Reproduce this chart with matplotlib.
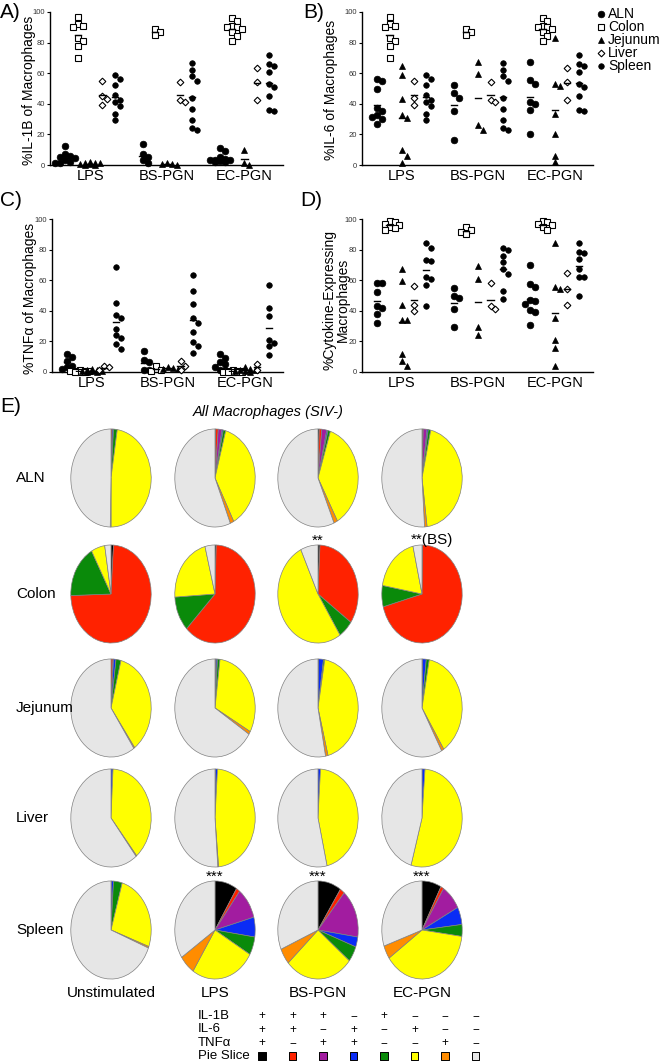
import matplotlib
matplotlib.use('Agg')
import matplotlib.pyplot as plt
import numpy as np

plt.rcParams['font.family'] = ['Liberation Sans', 'DejaVu Sans']

# ---------------- data ----------------
stimuli = ['LPS', 'BS-PGN', 'EC-PGN']
tissues = ['ALN', 'Colon', 'Jejunum', 'Liver', 'Spleen']

il1b_lps = [[12.5, 7, 6, 5, 4.5, 3, 2, 1.5, 1],
            [97, 92, 91, 90, 83, 81, 78, 70],
            [2, 1.5, 1, 1, 0.5, 0.5, 0.3, 0.2],
            [55, 45, 43, 39],
            [58.5, 56.5, 52, 45.5, 42.5, 41, 38.5, 33.5, 29.5]]
il1b_bs = [[13.5, 7, 5, 3, 1],
           [89, 87, 85],
           [1, 0.8, 0.5, 0.3],
           [54.5, 42.5, 41],
           [66.5, 62, 58, 55, 44, 36.5, 29.5, 24, 23]]
il1b_ec = [[11, 9, 5, 4, 3.5, 3, 2.5, 2, 2, 3],
           [96, 94, 91, 90, 90, 89, 87, 84, 81],
           [10, 1, 0.3],
           [63.5, 54, 42.5],
           [72, 66, 65, 60.5, 53, 51, 45, 36, 35.5]]

il6_lps = [[56.5, 55, 50, 37, 35, 33, 31.5, 30, 26.5],
           [97, 92, 91, 90, 83, 81, 78, 70],
           [65, 59, 43, 33, 30.5, 9.5, 6, 1.5],
           [55, 44, 39],
           [58.5, 56.5, 52, 45.5, 42.5, 41, 38.5, 33.5, 29.5]]
il6_bs = [[52, 47, 43.5, 35.5, 16.5],
          [89, 87, 85],
          [67, 59.5, 26, 23],
          [54.5, 42.5, 41],
          [66.5, 62, 58, 55, 44, 36.5, 29.5, 24, 23]]
il6_ec = [[67, 55.5, 53, 41, 40, 36, 20.5],
          [96, 94, 91, 90, 90, 89, 87, 84, 81],
          [83, 53, 51.5, 33.5, 20.5, 6, 2],
          [63.5, 54, 42.5],
          [72, 66, 65, 60.5, 53, 51, 45, 36, 35.5]]

tnf_lps = [[11.5, 10, 7, 4, 3, 2],
           [1, 0.8, 0.5, 0.5, 0.3, 0.2, 0.5, 0.1],
           [2, 1.5, 1, 0.8, 0.5, 0.5, 0.3, 0.2],
           [4, 3, 1],
           [68.5, 45, 37.5, 35, 28, 24, 22, 18, 15]]
tnf_bs = [[14, 8, 6.5, 1, 1],
          [4, 1, 0.5],
          [3, 2.5, 2, 2],
          [7, 4, 1],
          [63.5, 53, 44.5, 35, 32, 26, 19.5, 17, 12.5]]
tnf_ec = [[12, 9, 6.5, 5, 3, 1.5, 1],
          [1, 0.8, 0.5, 0.4, 0.3, 0.3, 0.2, 0.1, 0.1],
          [3, 2, 1.5, 1, 0.8, 0.5, 0.3],
          [5, 1],
          [57, 42, 36.5, 21, 19, 17, 11]]

cyto_lps = [[58, 58, 52, 43, 42, 38, 32],
            [99, 98, 97, 96, 95, 94, 93],
            [67.5, 59.5, 43.5, 34, 34, 12, 7, 4],
            [56.5, 44, 40],
            [84, 81, 73, 72.5, 62, 61, 57, 43]]
cyto_bs = [[55, 50, 48.5, 41.5, 29.5],
           [95, 93, 91.5, 90],
           [69.5, 60.5, 29.5, 24],
           [58, 43, 41],
           [81, 80, 76, 72, 67, 64, 53, 48]]
cyto_ec = [[70, 57.5, 55.5, 47, 46.5, 44.5, 40.5, 39.5, 31],
           [99, 98, 97, 96, 95, 93],
           [84, 55.5, 54, 35, 21, 16, 4],
           [65, 54, 43.5],
           [84, 78.5, 78, 74, 67, 62, 62, 49.5]]

panels = [('A)', '%IL-1B of Macrophages', [il1b_lps, il1b_bs, il1b_ec]),
          ('B)', '%IL-6 of Macrophages', [il6_lps, il6_bs, il6_ec]),
          ('C)', '%TNF\u03b1 of Macrophages', [tnf_lps, tnf_bs, tnf_ec]),
          ('D)', '%Cytokine-Expressing\nMacrophages', [cyto_lps, cyto_bs, cyto_ec])]
y_ticks = [0, 20, 40, 60, 80, 100]

# pie fractions: order = [1B+6+T+, 1B+6+, 1B+T+, 6+T+, 1B only, 6 only, T only, none]
pie_conditions = ['Unstimulated', 'LPS', 'BS-PGN', 'EC-PGN']
pie_aln = [[0, 0.5, 0, 0.5, 1.5, 47.5, 0.3, 49.7],
           [0.3, 1, 1.5, 0.5, 1, 38, 1.5, 56.2],
           [0.5, 1, 2, 0.5, 1, 37, 1.5, 56.5],
           [0.3, 0.2, 1.5, 0.5, 1, 44.5, 1, 51]]
pie_colon = [[1, 73.5, 0, 0, 17.5, 5.5, 0, 2.5],
             [0.5, 62, 0, 0, 11.5, 22, 0, 4],
             [0.8, 34, 0, 0, 6, 52.2, 0, 7],
             [0.2, 70.6, 0, 0, 7, 18.6, 0, 3.6]]
pie_jejunum = [[0, 0.8, 0.2, 1, 2, 36, 0.4, 59.6],
               [0.3, 0, 0.2, 0.5, 1, 31, 1, 66],
               [0, 0, 0.2, 2, 0.5, 43.3, 1, 53],
               [0, 0, 0.2, 1.5, 1.2, 38, 1, 58.1]]
pie_liver = [[0, 0, 0, 0.8, 0, 38.2, 0.3, 60.7],
             [0.2, 0, 0, 0.8, 0, 47.6, 0.3, 51.1],
             [0, 0, 0, 1, 0, 45.4, 0, 53.6],
             [0, 0, 0, 1.2, 0, 53.2, 0, 45.6]]
pie_spleen = [[0, 0, 0.2, 0.8, 3.5, 26, 0.5, 69],
              [9, 1.5, 10.3, 6.5, 6, 25.9, 6.4, 34.4],
              [9.4, 1.9, 16, 3.3, 5.2, 27.5, 5.3, 31.4],
              [7.8, 1.2, 8.4, 5.8, 3.9, 38.2, 4.4, 30.3]]
pie_rows = [pie_aln, pie_colon, pie_jejunum, pie_liver, pie_spleen]

# significance marks (row, col, text)
sig_marks = [(1, 2, '**'), (1, 3, '**(BS)'), (4, 1, '***'), (4, 2, '***'), (4, 3, '***')]

legend_rows = ['IL-1B', 'IL-6', 'TNF\u03b1']
legend_signs = [['+', '+', '+', '\u2212', '+', '\u2212', '\u2212', '\u2212'],
                ['+', '+', '\u2212', '+', '\u2212', '+', '\u2212', '\u2212'],
                ['+', '\u2212', '+', '+', '\u2212', '\u2212', '+', '\u2212']]
slice_colors = ['#000000', '#FF2200', '#A21CA0', '#0A2CF5', '#0A8A0A',
                '#FFFF00', '#FF8C00', '#E6E6E6']

# ---------------- figure ----------------
W, H = 660, 1061
fig = plt.figure(figsize=(W / 100, H / 100), dpi=100)


def px_axes(l, t, w, h):
    return fig.add_axes([l / W, 1 - (t + h) / H, w / W, h / H])


def ftxt(x, y, s, **kw):
    return fig.text(x / W, 1 - y / H, s, **kw)


markers = [dict(marker='o', ms=4.8, mfc='k', mec='k', mew=0.5),
           dict(marker='s', ms=4.4, mfc='white', mec='k', mew=0.8),
           dict(marker='^', ms=4.4, mfc='k', mec='k', mew=0.5),
           dict(marker='D', ms=3.4, mfc='white', mec='k', mew=0.8),
           dict(marker='o', ms=4.0, mfc='k', mec='k', mew=0.5)]
offsets = np.array([-0.32, -0.16, 0.0, 0.16, 0.32])


def swarm(vals, center, dy=3.6, dx=0.065):
    vals = np.asarray(vals, float)
    xs = np.zeros(len(vals))
    placed = []
    for i in np.argsort(-vals):
        v = vals[i]
        best, best_n = None, 1e9
        for k in [0, 1, -1, 2, -2]:
            x = center + k * dx
            n = sum(1 for (px_, pv) in placed if abs(px_ - x) < dx * 0.6 and abs(pv - v) < dy)
            if n == 0:
                best = x
                break
            if n < best_n:
                best, best_n = x, n
        placed.append((best, v))
        xs[i] = best
    return xs


panel_boxes = [(50, 12, 233, 153), (362, 12, 231, 153),
               (52, 219, 231, 153), (362, 219, 231, 153)]
letter_pos = [(0, 3), (303, 3), (0, 191), (300, 191)]
ylabel_x = [29, 331, 30, 336]
ylabel_y = [90, 90, 298, 300]

for (letter, ylabel, groups), box, lpos, lx, ly in zip(panels, panel_boxes, letter_pos,
                                                       ylabel_x, ylabel_y):
    ax = px_axes(*box)
    for gi, group in enumerate(groups):
        for ti, vals in enumerate(group):
            c = gi + 1 + offsets[ti]
            xs = swarm(vals, c)
            ax.plot(xs, vals, ls='none', clip_on=False, zorder=3, **markers[ti])
            m = np.mean(vals)
            ax.plot([c - 0.04, c + 0.04], [m, m], color='k', lw=1.0, zorder=4)
    ax.set_xlim(0.48, 3.5)
    ax.set_ylim(0, 100)
    ax.set_yticks(y_ticks)
    ax.set_yticklabels([str(t) for t in y_ticks], fontsize=5.5, color='#333333')
    ax.set_xticks([1, 2, 3])
    ax.set_xticklabels(stimuli, fontsize=10.5)
    ax.tick_params(axis='x', length=0, pad=3)
    ax.tick_params(axis='y', length=2.5, width=0.8, pad=1.0)
    for s in ['top', 'right']:
        ax.spines[s].set_visible(False)
    for s in ['left', 'bottom']:
        ax.spines[s].set_linewidth(1.0)
    ax.set_ylabel(ylabel, fontsize=10, linespacing=0.9)
    ax.yaxis.set_label_coords((lx - box[0]) / box[2], 1 - (ly - box[1]) / box[3])
    ax.yaxis.label.set_va('center')
    ftxt(lpos[0], lpos[1], letter, fontsize=15, va='top', ha='left')

# legend for tissues
lax = px_axes(593, 5, 67, 70)
lax.set_xlim(593, 660)
lax.set_ylim(75, 5)
lax.axis('off')
for i, t in enumerate(tissues):
    y = 14 + 13 * i
    lax.plot([601], [y], ls='none', **markers[i])
    lax.text(608, y, t, fontsize=10, va='center', ha='left')

# ---------------- panel E ----------------
ftxt(0, 397, 'E)', fontsize=15, va='top', ha='left')
ftxt(268, 412, 'All Macrophages (SIV-)', fontsize=10.5, style='italic', ha='center', va='center')

col_x = [111, 215, 318, 422]
row_y = [478, 594, 708, 818, 930]
rx, ry = 41, 50
for ri, (tname, rows) in enumerate(zip(tissues, pie_rows)):
    ftxt(16, row_y[ri], tname, fontsize=11, ha='left', va='center')
    for ci, fracs in enumerate(rows):
        pax = px_axes(col_x[ci] - rx, row_y[ri] - ry, 2 * rx, 2 * ry)
        vals = [v for v in fracs if v > 0]
        cols = [c for v, c in zip(fracs, slice_colors) if v > 0]
        pax.pie(vals, colors=cols, startangle=90, counterclock=False,
                wedgeprops=dict(edgecolor='#808080', linewidth=0.5))
        pax.set_aspect('auto')
        pax.set_xlim(-1.02, 1.02)
        pax.set_ylim(-1.02, 1.02)

for ri, ci, s in sig_marks:
    if s.startswith('**('):
        ftxt(col_x[ci] - 11, row_y[ri] - ry - 4, s, fontsize=11, ha='left', va='center')
    else:
        ftxt(col_x[ci], row_y[ri] - ry - 3, s, fontsize=11, ha='center', va='center')

for ci, name in enumerate(pie_conditions):
    ftxt(col_x[ci], 993, name, fontsize=11, ha='center', va='center')

# slice legend table
tax = px_axes(190, 1005, 300, 56)
tax.set_xlim(190, 490)
tax.set_ylim(1061, 1005)
tax.axis('off')
tcols = 262 + 30.5 * np.arange(8)
row_ys = [1016, 1029.5, 1043, 1056]
for r, (lab, signs) in enumerate(zip(legend_rows, legend_signs)):
    tax.text(198, row_ys[r], lab, fontsize=9.5, ha='left', va='center')
    for x, s in zip(tcols, signs):
        tax.text(x, row_ys[r], s, fontsize=8.5, ha='center', va='center')
tax.text(198, row_ys[3], 'Pie Slice', fontsize=9.5, ha='left', va='center')
tax.scatter(tcols, [row_ys[3]] * 8, marker='s', s=26, c=slice_colors,
            edgecolors='k', linewidths=0.7)

fig.savefig('out.png', dpi=100)
